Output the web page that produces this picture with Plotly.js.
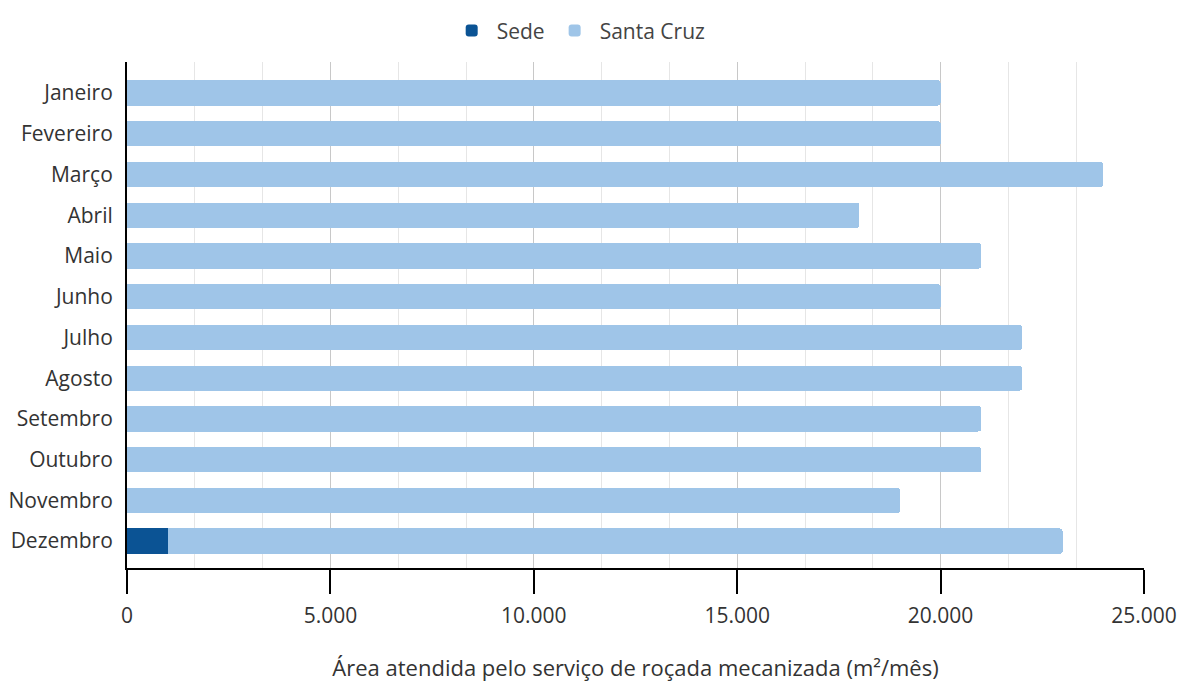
<!DOCTYPE html>
<html>
<head>
<meta charset="utf-8">
<script src="https://cdn.plot.ly/plotly-3.0.1.min.js"></script>
<style>html,body{margin:0;padding:0;background:#fff;}#chart{width:1181px;height:689px;}</style>
</head>
<body>
<div id="chart"></div>
<script>
const months = ["Janeiro","Fevereiro","Março","Abril","Maio","Junho","Julho","Agosto","Setembro","Outubro","Novembro","Dezembro"];
const sede = [0,0,0,0,0,0,0,0,0,0,0,1000];
const santaCruz = [20000,20000,24000,18000,21000,20000,22000,22000,21000,21000,19000,22000];
const xTicks = [0,5000,10000,15000,20000,25000];
const xTickLabels = ["0","5.000","10.000","15.000","20.000","25.000"];

const font = "'Open Sans', 'Noto Sans', sans-serif";
const traces = [
  {type:'bar', orientation:'h', name:'Sede', y:months, x:sede, marker:{color:'#0b5394'}, hoverinfo:'x+name'},
  {type:'bar', orientation:'h', name:'Santa Cruz', y:months, x:santaCruz, marker:{color:'#9fc5e8'}, hoverinfo:'x+name'}
];
const layout = {
  width:1181, height:689,
  margin:{l:127, r:37, t:62, b:121},
  paper_bgcolor:'#fff', plot_bgcolor:'#fff',
  barmode:'stack', bargap:0.38, barcornerradius:3,
  font:{family:font, color:'#333', size:21},
  showlegend:true,
  legend:{orientation:'h', xref:'container', yref:'container', x:0.49, xanchor:'center', y:0.985, yanchor:'top', font:{size:21, color:'#444'}, itemwidth:40, traceorder:'normal'},
  xaxis:{
    range:[0,25000], autorange:false,
    tickvals:xTicks, ticktext:xTickLabels,
    ticks:'outside', ticklen:24, tickwidth:2, tickcolor:'#000',
    showline:true, linecolor:'#000', linewidth:2,
    showgrid:true, gridcolor:'#c8c8c8', gridwidth:1,
    minor:{dtick:5000/3, tick0:0, showgrid:true, gridcolor:'#e6e6e6', gridwidth:1, ticks:''},
    zeroline:false, ticklabelstandoff:4,
    tickfont:{size:21, color:'#333'},
    title:{text:'Área atendida pelo serviço de roçada mecanizada (m²/mês)', font:{size:22, color:'#333'}, standoff:32},
    layer:'below traces'
  },
  yaxis:{
    type:'category', categoryorder:'array', categoryarray:months,
    range:[11.66,-0.76], autorange:false,
    showline:true, linecolor:'#000', linewidth:2,
    ticks:'', showgrid:false, zeroline:false,
    ticklabelstandoff:8,
    tickfont:{size:21, color:'#333'},
    layer:'below traces'
  }
};
Plotly.newPlot('chart', traces, layout, {displayModeBar:false, staticPlot:true});
</script>
</body>
</html>
